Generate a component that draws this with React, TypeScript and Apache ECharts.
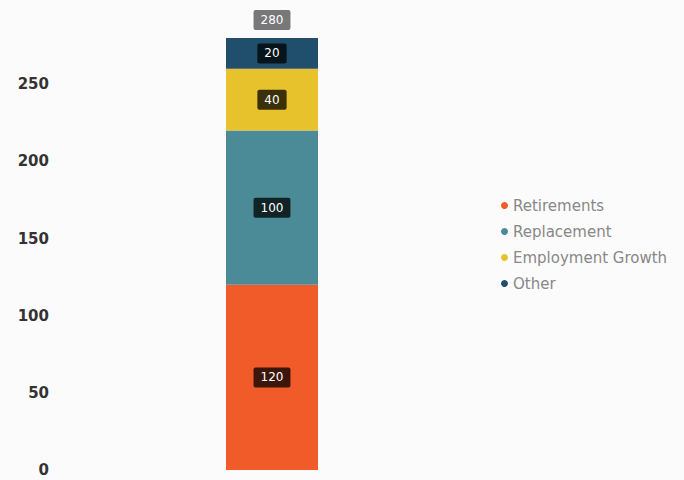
import React, { useEffect, useRef } from "react";
import * as echarts from "echarts";

const categories = ["Openings"];
const seriesNames = ["Retirements", "Replacement", "Employment Growth", "Other"];
const retirements = [120];
const replacement = [100];
const employmentGrowth = [40];
const other = [20];
const colors = ["#f15a29", "#4a8b97", "#e8c22c", "#1f4f6c"];

export default function App() {
  const ref = useRef<HTMLDivElement>(null);
  useEffect(() => {
    if (!ref.current) return;
    const chart = echarts.init(ref.current, undefined, { renderer: "svg" });
    const values = [retirements, replacement, employmentGrowth, other];
    const totals = categories.map((_, i) => values.reduce((s, v) => s + v[i], 0));
    const labelStyle = {
      show: true,
      position: "inside" as const,
      color: "#fff",
      fontSize: 12,
      fontFamily: "DejaVu Sans",
      backgroundColor: "rgba(0,0,0,0.75)",
      padding: [4, 7],
      borderRadius: 2,
    };
    chart.setOption({
      animation: false,
      backgroundColor: "#fbfbfb",
      grid: { left: 60, right: 200, top: 38, bottom: 10, containLabel: false },
      legend: {
        data: seriesNames,
        orient: "vertical",
        left: 496,
        top: 193,
        itemGap: 11,
        icon: "circle",
        itemWidth: 7,
        itemHeight: 7,
        textStyle: { color: "#888", fontSize: 15, fontFamily: "DejaVu Sans" },
      },
      xAxis: {
        type: "category",
        data: categories,
        axisLine: { show: false },
        axisTick: { show: false },
        axisLabel: { show: false },
      },
      yAxis: {
        type: "value",
        min: 0,
        max: 280,
        interval: 50,
        splitLine: { show: false },
        axisLine: { show: false },
        axisTick: { show: false },
        axisLabel: {
          color: "#333",
          fontWeight: "bold",
          fontSize: 15,
          fontFamily: "DejaVu Sans",
          margin: 11,
          showMaxLabel: false,
        },
      },
      series: [
        ...seriesNames.map((name, i) => ({
          name,
          type: "bar",
          stack: "total",
          barWidth: 92,
          data: values[i],
          itemStyle: { color: colors[i] },
          label: labelStyle,
        })),
        {
          name: "Total",
          type: "bar",
          stack: "total",
          barWidth: 92,
          data: categories.map(() => 0),
          itemStyle: { color: "transparent" },
          label: {
            ...labelStyle,
            position: "top",
            distance: 8,
            backgroundColor: "rgba(0,0,0,0.52)",
            formatter: (p: any) => String(totals[p.dataIndex]),
          },
        },
      ],
    });
    return () => chart.dispose();
  }, []);
  return <div ref={ref} style={{ width: 684, height: 480, position: "absolute", left: 0, top: 0 }} />;
}
